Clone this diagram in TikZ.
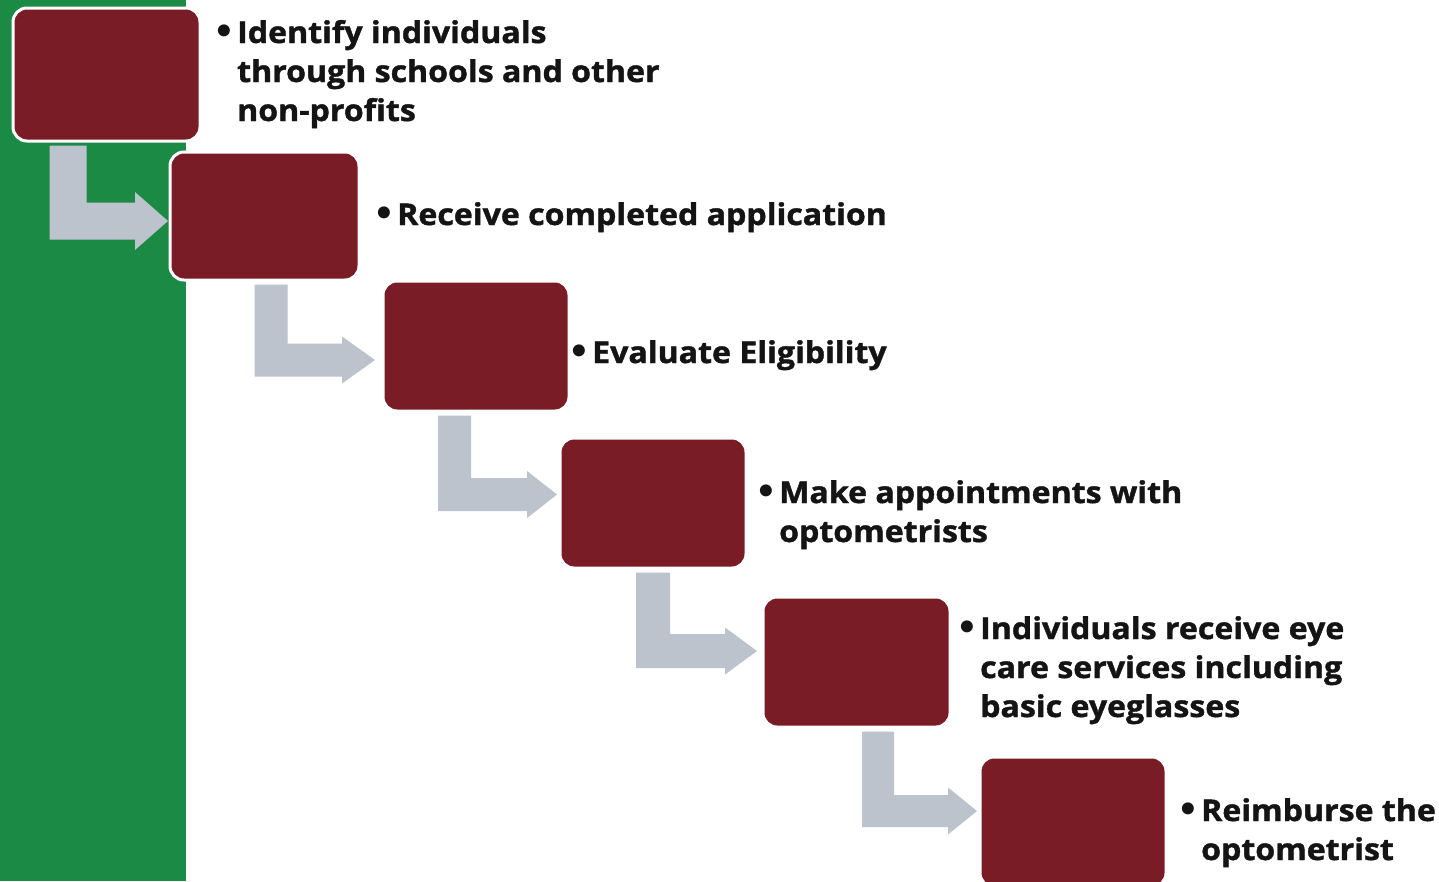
\documentclass[tikz,border=0pt]{standalone}
\usepackage{fontspec}
\setmainfont[Ligatures={NoCommon}, FakeStretch=1.07, BoldFeatures={FakeBold=1.3}]{Open Sans}
\newfontfamily\symfont{DejaVu Sans}
\usetikzlibrary{calc}
\definecolor{boxred}{HTML}{7A1C26}
\definecolor{bandgreen}{HTML}{1B8A44}
\definecolor{agrey}{HTML}{BCC3CC}
\definecolor{ink}{HTML}{141414}
\newcommand\bitem[1]{\makebox[21pt][l]{\hspace{-3pt}\symfont\fontsize{34}{34}\selectfont •}\begin{tabular}[t]{@{}l@{}}#1\end{tabular}}
% block arrow: #1 from node, #2 to node, #3 shaft centre x, #4 shaft centre y,
% #5 shaft half width, #6 head half width, #7 head length, #8 gap before target
\newcommand\blockarrow[8]{%
  \fill[agrey] let \p1=(#1.south), \p2=(#2.west) in
    ({#3pt-#5pt},{\y1-3pt}) -- ({#3pt+#5pt},{\y1-3pt})
    -- ({#3pt+#5pt},{-#4pt+#5pt}) -- ({\x2-#8pt-#7pt},{-#4pt+#5pt})
    -- ({\x2-#8pt-#7pt},{-#4pt+#6pt}) -- ({\x2-#8pt},{-#4pt})
    -- ({\x2-#8pt-#7pt},{-#4pt-#6pt}) -- ({\x2-#8pt-#7pt},{-#4pt-#5pt})
    -- ({#3pt-#5pt},{-#4pt-#5pt}) -- cycle;}
\tikzset{
  stepbox/.style={draw=white, line width=3pt, fill=boxred, rounded corners=14pt,
    anchor=north west, inner sep=0pt},
  txt/.style={anchor=base west, inner sep=0pt, text=ink,
    font=\fontsize{30}{39}\selectfont\bfseries},
}
\begin{document}
\begin{tikzpicture}[x=1pt,y=-1pt]
\clip (0,0) rectangle (1439,881);
\fill[white] (0,0) rectangle (1439,881);
\fill[bandgreen] (0,0) rectangle (186,881);
% boxes
\node[stepbox, minimum width=187pt, minimum height=133pt] (b1) at (11.5,6.5) {};
\node[stepbox, minimum width=189pt, minimum height=128pt] (b2) at (168.5,150.5) {};
\node[stepbox, minimum width=186pt, minimum height=130pt] (b3) at (381.5,279.5) {};
\node[stepbox, minimum width=186pt, minimum height=130pt] (b4) at (558.5,436.5) {};
\node[stepbox, minimum width=187pt, minimum height=130pt] (b5) at (761.5,595.5) {};
\node[stepbox, minimum width=186pt, minimum height=130pt] (b6) at (978.5,755.5) {};
% arrows
\blockarrow{b1}{b2}{68}{221}{18.5}{29}{33}{0.5}
\blockarrow{b2}{b3}{271}{360}{16.5}{23.5}{33}{6.5}
\blockarrow{b3}{b4}{454.5}{494.5}{16.5}{23.5}{30}{1.5}
\blockarrow{b4}{b5}{653}{651}{17}{23.5}{32}{4.5}
\blockarrow{b5}{b6}{878}{811}{16}{23.5}{29}{1.5}
% texts
\node[txt] (t1) at (216,43) {\bitem{Identify individuals\\through schools and other\\non-profits}};
\node[txt] (t2) at (376,225) {\bitem{Receive completed application}};
\node[txt] (t3) at (571,363) {\bitem{Evaluate Eligibility}};
\node[txt] (t4) at (758,503) {\bitem{Make appointments with\\optometrists}};
\node[txt] (t5) at (959,639) {\bitem{Individuals receive eye\\care services including\\basic eyeglasses}};
\node[txt] (t6) at (1180,821) {\bitem{Reimburse the\\optometrist}};
\end{tikzpicture}
\end{document}
